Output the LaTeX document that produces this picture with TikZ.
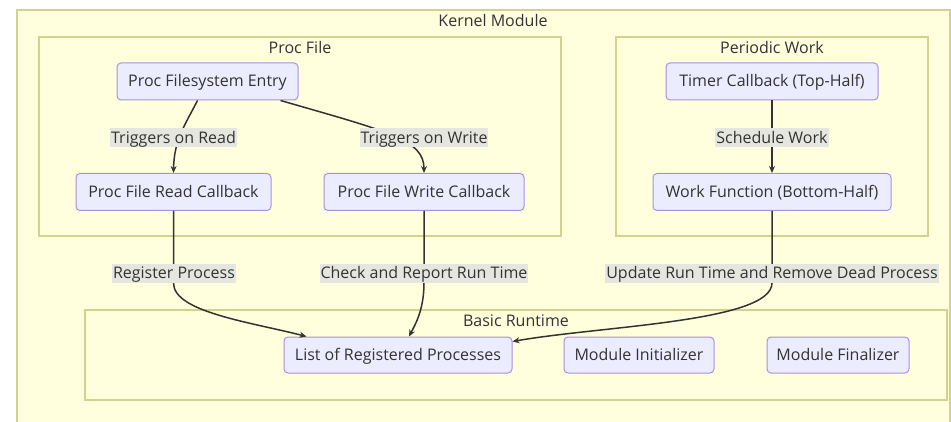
\documentclass[tikz,border=0pt]{standalone}
\usepackage{fontspec}
\setmainfont{Open Sans}
\usetikzlibrary{arrows.meta,calc}

\definecolor{clfill}{HTML}{FFFFDE}
\definecolor{clline}{HTML}{D2D28C}
\definecolor{ndfill}{HTML}{ECECFF}
\definecolor{ndline}{HTML}{A890E0}
\definecolor{lbfill}{HTML}{E6E6E0}
\definecolor{ink}{HTML}{333333}

\tikzset{
  txt/.style={font=\fontsize{16}{18}\selectfont, text height=13pt, text depth=2pt},
  cluster/.style={draw=clline, fill=clfill, line width=1.3pt, inner sep=0pt},
  cltitle/.style={txt, text=ink, inner sep=0pt},
  proc/.style={txt, draw=ndline, fill=ndfill, line width=1pt, rounded corners=4pt,
    text=ink, minimum height=37pt, inner sep=0pt},
  elabel/.style={txt, fill=lbfill, text=ink,
    inner xsep=1pt, inner ysep=2pt},
  edge/.style={draw=ink, line width=1.5pt, -{Stealth[length=7pt,width=6pt]}},
}

\begin{document}
\begin{tikzpicture}[x=1pt,y=-1pt]
\useasboundingbox (0,0) rectangle (951,422);
\clip (0,0) rectangle (951,422);
\fill[white] (0,0) rectangle (951,422);

% groups
\node[cluster, minimum width=933pt, minimum height=440pt] (kernel) at (483.5,230) {};
\node[cltitle] (kerneltitle) at (493,21) {Kernel Module};
\node[cluster, minimum width=522pt, minimum height=199pt] (procfile) at (300,136.5) {};
\node[cltitle] (proctitle) at (300,48) {Proc File};
\node[cluster, minimum width=312pt, minimum height=199pt] (periodic) at (772,136.5) {};
\node[cltitle] (periodictitle) at (772,48) {Periodic Work};
\node[cluster, minimum width=862pt, minimum height=90pt] (runtime) at (516,355) {};
\node[cltitle] (runtimetitle) at (516,321) {Basic Runtime};

% processes
\node[proc, minimum width=181pt] (entry) at (207.5,81.5) {Proc Filesystem Entry};
\node[proc, minimum width=195pt] (read) at (173.5,192) {Proc File Read Callback};
\node[proc, minimum width=200pt] (write) at (424,192) {Proc File Write Callback};
\node[proc, minimum width=212pt] (timer) at (772,81.5) {Timer Callback (Top-Half)};
\node[proc, minimum width=238pt] (work) at (772,192) {Work Function (Bottom-Half)};
\node[proc, minimum width=228pt, minimum height=36pt] (list) at (398,355) {List of Registered Processes};
\node[proc, minimum width=150pt, minimum height=36pt] (init) at (639,355) {Module Initializer};
\node[proc, minimum width=142pt, minimum height=36pt] (fini) at (838,355) {Module Finalizer};

% connectors
\draw[edge] ($(entry.south)+(-10,0)$) .. controls (185,125) and (174,140) .. (read.north);
\draw[edge] ($(entry.south)+(73,0)$) .. controls (390,132) and (424,140) .. (write.north);
\draw[edge] (timer.south) -- (work.north);
\draw[edge] (read.south) -- (173.5,283) .. controls (173.5,312) and (250,322) .. ($(list.north west)+(23,0)$);
\draw[edge] (write.south) -- (424,283) .. controls (424,310) and (415,325) .. ($(list.north)+(11,0)$);
\draw[edge] (work.south) -- (772,283) .. controls (772,322) and (600,326) .. ($(list.north east)+(0,5)$);

% connector labels
\node[elabel] (ltread) at (173.5,138) {Triggers on Read};
\node[elabel] (ltwrite) at (424,138) {Triggers on Write};
\node[elabel] (lsched) at (772,138) {Schedule Work};
\node[elabel] (lreg) at (174,273.5) {Register Process};
\node[elabel] (lcheck) at (424,273.5) {Check and Report Run Time};
\node[elabel] (lupd) at (772,273.5) {Update Run Time and Remove Dead Process};
\end{tikzpicture}
\end{document}
